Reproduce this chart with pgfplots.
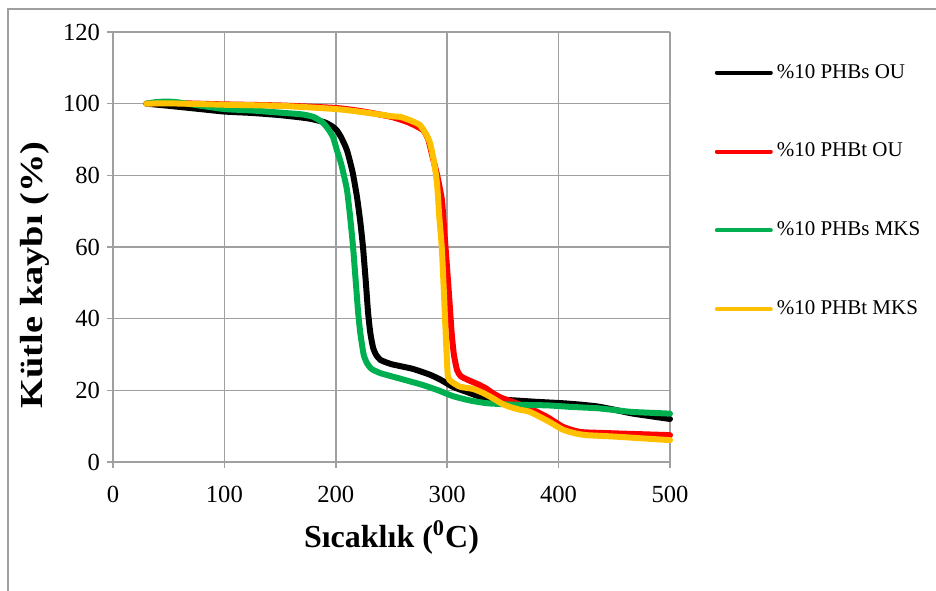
\documentclass[border=0pt]{standalone}
\usepackage{fontspec}
\setmainfont{Liberation Serif}
\usepackage{pgfplots}
\pgfplotsset{compat=1.18}
\definecolor{xlred}{HTML}{FF0000}
\definecolor{xlgreen}{HTML}{00B050}
\definecolor{xlyellow}{HTML}{FFC000}
\definecolor{gridgray}{HTML}{A0A0A0}
\begin{document}
\begin{tikzpicture}
\useasboundingbox (-56.5pt,-64pt) rectangle (411.5pt,231pt);
% outer chart frame (only left and top edges are in view)
\draw[gridgray, line width=0.7pt] (-52.5pt,-80pt) -- (-52.5pt,226.5pt) -- (430pt,226.5pt);
\begin{axis}[
    at={(0pt,0pt)}, anchor=south west,
    scale only axis,
    width=278.5pt, height=215pt,
    xmin=0, xmax=500, ymin=0, ymax=120,
    xtick={0,100,...,500}, ytick={0,20,...,120},
    axis x line=bottom, axis y line=left,
    axis line style={gridgray, line width=0.75pt, -},
    grid=major,
    grid style={gridgray, line width=0.75pt},
    tick align=outside, major tick length=3pt,
    tick style={gridgray, line width=0.75pt},
    xtick pos=bottom, ytick pos=left,
    tick label style={font=\fontsize{12.3}{14}\selectfont, black},
    xticklabel style={yshift=-5.5pt},
    /pgf/number format/assume math mode=true,
    xlabel={\textbf{Sıcaklık (\textsuperscript{0}C)}},
    ylabel={\scalebox{1.2}[1]{\textbf{Kütle kaybı (\%)}}},
    xlabel style={font=\fontsize{16}{18}\selectfont, at={(axis description cs:0.5,-0.175)}, anchor=center},
    ylabel style={font=\fontsize{16}{18}\selectfont, at={(axis description cs:-0.14,0.435)}, anchor=center, rotate=0},
    legend cell align=left,
    legend style={draw=none, fill=none, font=\fontsize{10.5}{12}\selectfont,
        at={(axis description cs:1.069,0.945)}, anchor=north west,
        row sep=27pt},
    legend image code/.code={\draw[#1, line width=2pt, line cap=round] (0pt,0pt) -- (27pt,0pt);},
    every axis plot/.append style={line width=3pt, line join=round, line cap=round, smooth, tension=0.35},
    clip=false,
]
% %10 PHBs OU
\addplot[black] coordinates {
 (30,100) (50,99.4) (75,98.6) (100,97.8) (125,97.4) (150,96.8) (175,95.9) (190,94.8)
 (197,93.6) (201,92.5) (205,90.5) (210,87) (215,81) (219,74) (222,67) (224.4,60)
 (227,50) (229,41.6) (231,36) (233.4,32) (236,30) (240,28.5) (250,27.3) (269,26)
 (285,24.3) (295,22.8) (305,21) (318,19.5) (330,18.2) (345,17.5) (360,17.2) (380,16.8)
 (404,16.4) (420,16) (435,15.5) (450,14.6) (465,13.6) (480,12.9) (500,12)
};
% %10 PHBt OU
\addplot[xlred] coordinates {
 (30,100) (50,100.2) (100,99.8) (150,99.5) (200,98.8) (225,97.8) (250,96.3) (265,94.8)
 (278,92.7) (283,90) (287,85) (291,80) (295.3,73) (297.5,64) (299.8,54.5) (302,45)
 (304,36) (306,30) (308.8,25.7) (312,24) (318,23) (329,21.5) (335,20.5) (341,19.2)
 (348,18) (354,17.3) (364,16.2) (374,15) (390,12.5) (404,9.8) (419,8.4) (440,8.1)
 (470,7.8) (500,7.5)
};
% %10 PHBs MKS
\addplot[xlgreen] coordinates {
 (30,100) (40,100.5) (55,100.5) (75,99.6) (100,98.5) (125,98.1) (150,97.5) (170,97)
 (180,96.3) (188,94.8) (193,93) (197.5,90.7) (201,87) (205,83) (210,76) (213,68)
 (215.5,60) (218,50) (220,42) (222,36) (225,30) (228,27.6) (232,26) (240,24.8)
 (255,23.5) (278,21.5) (292,20) (305,18.4) (320,17.2) (336,16.4) (360,16) (390,15.8)
 (410,15.4) (435,15) (450,14.5) (465,14) (485,13.7) (500,13.5)
};
% %10 PHBt MKS
\addplot[xlyellow] coordinates {
 (30,100) (50,100.1) (100,99.7) (150,99.4) (200,98.5) (225,97.6) (250,96.5) (258,96.3)
 (268,95.2) (275.6,94) (281,91.5) (284.6,89) (288,84) (290.8,77.9) (293,68) (295.3,59)
 (298,40.5) (299.5,30) (300.7,23.7) (304,22.4) (311.5,21) (323,20.4) (332,19.3) (341,17.8)
 (349,16.3) (356,15.4) (365,14.6) (374,14) (390,11.5) (404,9) (415,8) (425,7.5)
 (450,7.1) (475,6.6) (500,6.1)
};
\legend{\%10 PHBs OU, \%10 PHBt OU, \%10 PHBs MKS, \%10 PHBt MKS}
\end{axis}
\end{tikzpicture}
\end{document}
